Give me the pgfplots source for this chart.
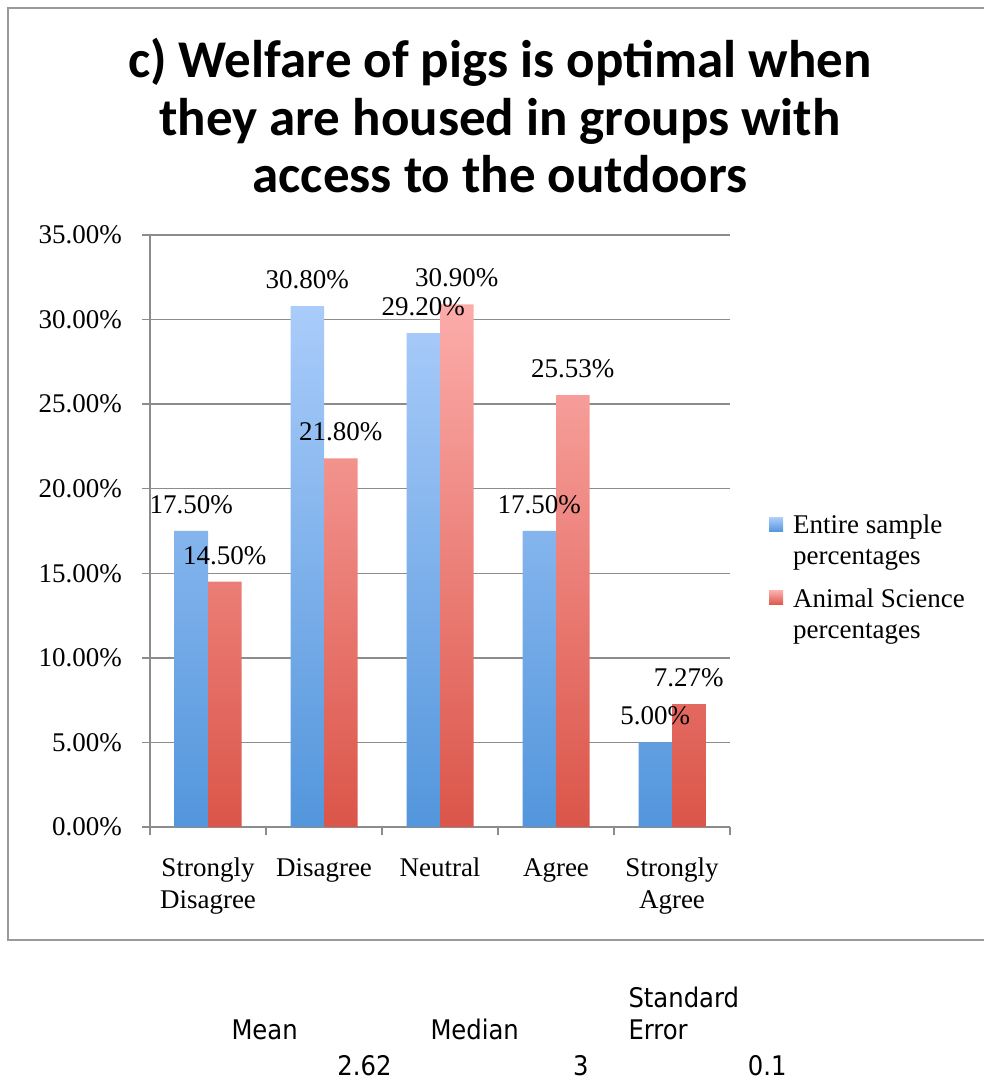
\documentclass[border=0pt]{standalone}
\usepackage{fontspec}
\setmainfont{Liberation Serif}
\newfontfamily\titlefont{Carlito}
\newfontfamily\statfont{DejaVu Sans Condensed}
\usepackage{pgfplots}
\pgfplotsset{compat=1.18}
\definecolor{bluetop}{HTML}{AACCFA}
\definecolor{bluebot}{HTML}{5396DC}
\definecolor{redtop}{HTML}{FCACAA}
\definecolor{redbot}{HTML}{DB5549}
\definecolor{gridgray}{HTML}{8C8C8C}
\definecolor{framegray}{HTML}{9A9A9A}
\begin{document}
\begin{tikzpicture}[x=1pt,y=1pt]
\useasboundingbox (0,0) rectangle (983,1083);
\draw[framegray, line width=2pt] (8,143) rectangle (995,1075);
\begin{scope}[every node/.style={font=\titlefont\bfseries\fontsize{53}{58}\selectfont, anchor=base}]
\node at (500,1005) {c) Welfare of pigs is optimal when};
\node at (500,947) {they are housed in groups with};
\node at (500,890) {access to the outdoors};
\end{scope}
\begin{axis}[
  at={(150pt,256pt)}, anchor=south west, scale only axis,
  width=580pt, height=592pt,
  xmin=-0.5, xmax=4.5, ymin=0, ymax=35,
  ybar=0pt, bar width=33.5pt,
  axis lines*=left,
  axis line style={gridgray, line width=1.5pt},
  ymajorgrids, grid style={gridgray, line width=1.5pt},
  tick align=outside, major tick length=8pt,
  tick style={gridgray, line width=1.5pt},
  ytick={0,5,...,35},
  yticklabel={\pgfmathprintnumber[fixed,fixed zerofill,precision=2,assume math mode=true]{\tick}\%},
  yticklabel style={inner sep=0pt, xshift=-20pt},
  xtick={-0.5,0.5,...,4.5}, xticklabels={},
  extra x ticks={0,1,2,3,4},
  extra x tick labels={{Strongly\\Disagree},Disagree,Neutral,Agree,{Strongly\\Agree}},
  extra x tick style={major tick length=0pt, tick label style={align=center, inner sep=0pt, yshift=-31pt}},
  tick label style={font=\fontsize{27}{32}\selectfont},
  nodes near coords={\pgfmathprintnumber[fixed,fixed zerofill,precision=2,assume math mode=true]{\pgfplotspointmeta}\%},
  every node near coord/.append style={font=\fontsize{27}{33}\selectfont, anchor=south, inner sep=0pt, yshift=17pt, text=black},
  legend style={at={(1,0.534)}, anchor=north west, xshift=36pt, draw=none, fill=none,
    font=\fontsize{27}{31}\selectfont, cells={anchor=west, align=left}, row sep=18pt, column sep=8pt},
  legend image code/.code={\path[#1] (0pt,9pt) rectangle (14pt,23pt);},
]
\addplot[draw=none, top color=bluetop, bottom color=bluebot] coordinates {(0,17.5) (1,30.8) (2,29.2) (3,17.5) (4,5.0)};
\addlegendentry{Entire sample\\percentages}
\addplot[draw=none, top color=redtop, bottom color=redbot] coordinates {(0,14.5) (1,21.8) (2,30.9) (3,25.53) (4,7.27)};
\addlegendentry{Animal Science\\percentages}
\end{axis}
\begin{scope}[every node/.style={font=\statfont\fontsize{27}{33}\selectfont}]
\node[anchor=base west] at (625,75) {Standard};
\node[anchor=base west] at (625,43) {Error};
\node[anchor=base west] at (228,43) {Mean};
\node[anchor=base west] at (427,43) {Median};
\node[anchor=base east] at (395,7) {2.62};
\node[anchor=base east] at (592,7) {3};
\node[anchor=base east] at (790,7) {0.1};
\end{scope}
\end{tikzpicture}
\end{document}
